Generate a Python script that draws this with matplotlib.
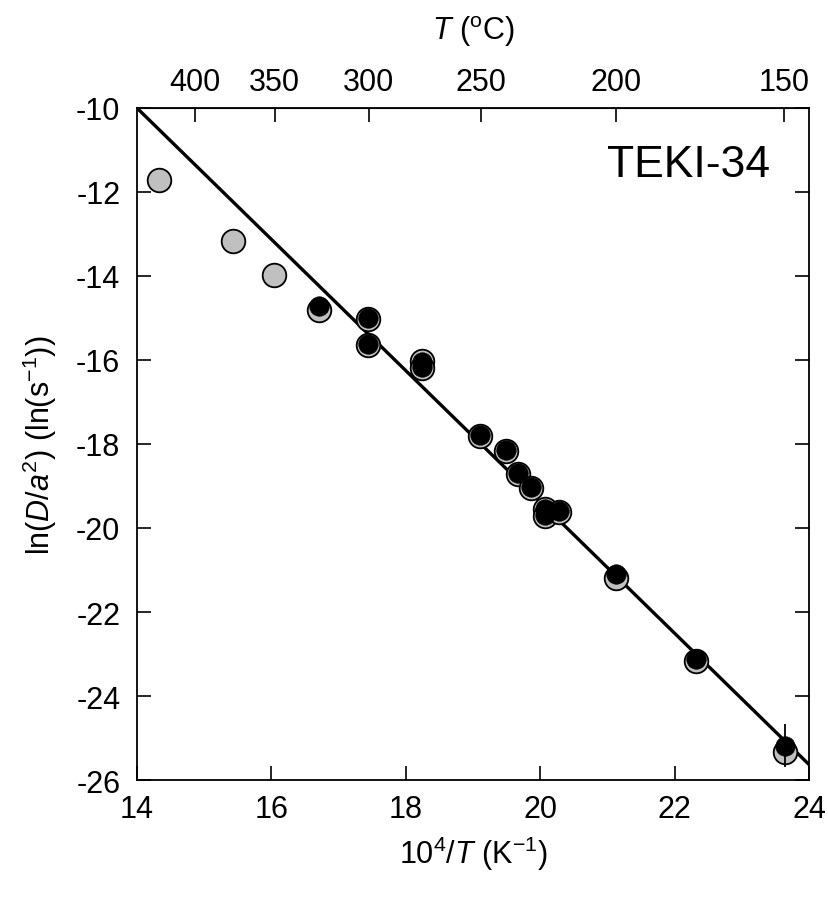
import numpy as np
import matplotlib
matplotlib.use("Agg")
import matplotlib.pyplot as plt

plt.rcParams['font.family'] = ['Liberation Sans', 'DejaVu Sans']
plt.rcParams['mathtext.fontset'] = 'custom'
plt.rcParams['mathtext.rm'] = 'Liberation Sans'
plt.rcParams['mathtext.it'] = 'Liberation Sans:italic'
plt.rcParams['mathtext.default'] = 'regular'
plt.rcParams['axes.unicode_minus'] = False

# Early high-temperature steps (grey only)
early_x = [14.32, 15.43, 16.04]
early_y = [-11.72, -13.16, -13.97]

# Paired heating steps: grey (outer) and black (inner) estimates
step_x = [16.71, 17.44, 17.44, 18.24, 18.24, 19.11, 19.49, 19.67, 19.86,
          20.07, 20.07, 20.28, 21.13, 22.32, 23.64]
grey_y = [-14.80, -15.02, -15.65, -16.03, -16.20, -17.82, -18.17, -18.72, -19.04,
          -19.55, -19.72, -19.62, -21.18, -23.17, -25.33]
black_y = [-14.72, -15.00, -15.63, -16.05, -16.17, -17.78, -18.15, -18.70, -19.02,
           -19.55, -19.68, -19.60, -21.10, -23.12, -25.18]
black_err = [0, 0, 0, 0, 0, 0, 0, 0, 0, 0, 0, 0, 0, 0, 0.52]

# Arrhenius fit: ln(D/a^2) = intercept + slope * (1e4/T)
fit_intercept = 11.88
fit_slope = -1.563

top_ticks_C = [400, 350, 300, 250, 200, 150]
x_ticks = [14, 16, 18, 20, 22, 24]
y_ticks = [-26, -24, -22, -20, -18, -16, -14, -12, -10]

FS = 22

fig = plt.figure(figsize=(8.29, 9.03), dpi=100)
ax = fig.add_axes([0.1653, 0.1351, 0.8106, 0.7442])

xf = np.array([13.5, 24.5])
ax.plot(xf, fit_intercept + fit_slope * xf, color='black', lw=2.4, zorder=2,
        solid_capstyle='butt')

ax.plot(early_x, early_y, 'o', ms=17, mfc='#c0c0c0', mec='black', mew=1.3,
        linestyle='none', zorder=3)
ax.plot(step_x, grey_y, 'o', ms=17, mfc='#c0c0c0', mec='black', mew=1.3,
        linestyle='none', zorder=3)
ax.errorbar(step_x, black_y, yerr=black_err, fmt='o', ms=14, mfc='black',
            mec='black', mew=0.5, ecolor='black', elinewidth=1.3, capsize=0,
            zorder=4)

ax.set_xlim(14, 24)
ax.set_ylim(-26, -10)
ax.set_xticks(x_ticks)
ax.set_yticks(y_ticks)
ax.tick_params(direction='in', length=10, width=1.2, labelsize=FS,
               right=True, top=False)
ax.tick_params(axis='y', pad=12)
ax.tick_params(axis='x', pad=10)
for s in ax.spines.values():
    s.set_linewidth(1.3)

ax.set_xlabel(r'10$^4$/$\it{T}$ (K$^{-1}$)', fontsize=FS, labelpad=7)
ax.set_ylabel(r'ln($\it{D/a}^2$) (ln(s$^{-1}$))', fontsize=FS, labelpad=12)

def to_celsius(x):
    x = np.asarray(x, dtype=float)
    with np.errstate(divide='ignore'):
        return 1e4 / x - 273.15

def to_inv(t):
    t = np.asarray(t, dtype=float)
    with np.errstate(divide='ignore'):
        return 1e4 / (t + 273.15)

sec = ax.secondary_xaxis('top', functions=(to_celsius, to_inv))
sec.set_xticks(top_ticks_C)
sec.tick_params(direction='in', length=10, width=1.2, labelsize=FS, pad=8)
sec.set_xlabel(r'$\it{T}$ ($^{\rm o}$C)', fontsize=FS, labelpad=20)

ax.text(0.70, 0.899, 'TEKI-34', transform=ax.transAxes, fontsize=32,
        ha='left', va='baseline')

fig.savefig('out.png', dpi=100)
